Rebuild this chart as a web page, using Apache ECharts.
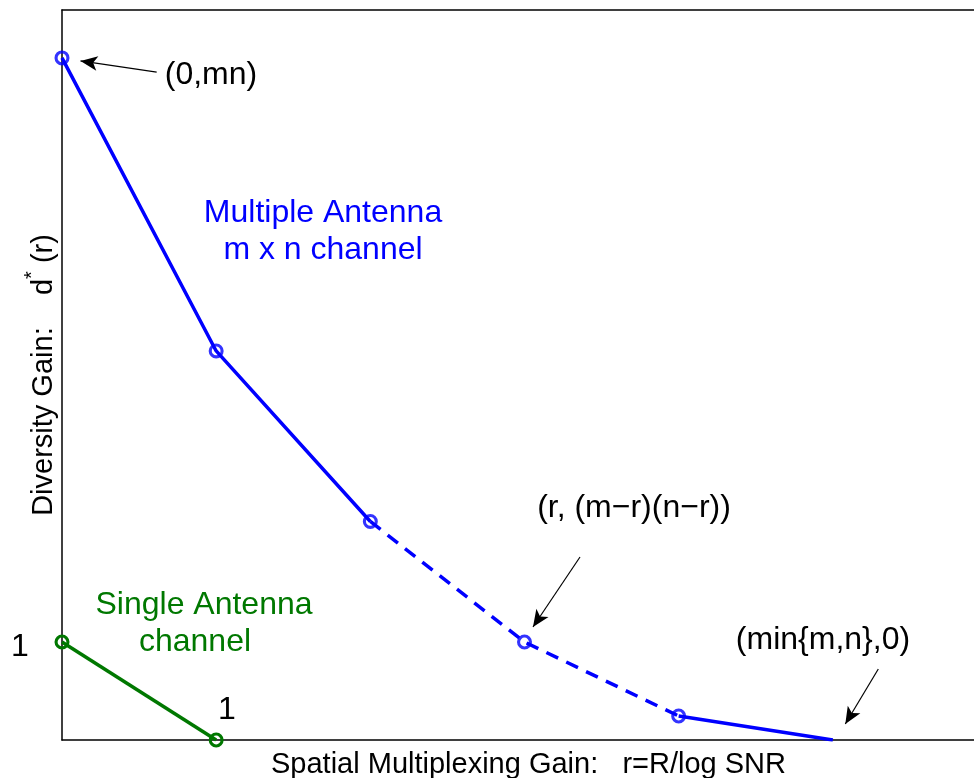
<!DOCTYPE html>
<html>
<head>
<meta charset="utf-8">
<script src="https://cdn.jsdelivr.net/npm/echarts@6/dist/echarts.min.js"></script>
<style>html,body{margin:0;padding:0;background:#fff;}#c{width:974px;height:778px;}</style>
</head>
<body>
<div id="c"></div>
<script>
// Multiplexing gain r (x) for each corner point
const rValues = [0, 1, 2, 3, 4, 5];
// Diversity gain d*(r) for the multiple antenna m x n channel (schematic)
const multiDiversity = [6.96, 3.97, 2.23, 1.0, 0.245, 0];
// Single antenna channel
const singleR = [0, 1];
const singleDiversity = [1, 0];
// Annotation arrows in data units: [fromX, fromY, toX, toY]
const arrowMn = [0.614, 6.816, 0.120, 6.929];
const arrowGeneric = [3.360, 1.867, 3.055, 1.153];
const arrowMin = [5.295, 0.724, 5.081, 0.163];

const FONT = 'Liberation Sans, Arial, Helvetica, sans-serif';
const FS = 32;
const AFS = 29;
const BLUE = '#0000ff';
const GREEN = '#007800';
// hollow ring marker (outer and inner circles drawn in opposite directions)
const RING = 'path://M7,0 A7,7 0 1,1 -7,0 A7,7 0 1,1 7,0 Z M4.1,0 A4.1,4.1 0 1,0 -4.1,0 A4.1,4.1 0 1,0 4.1,0 Z';

const pts = (xs, ys, from, to) => xs.slice(from, to + 1).map((x, i) => [x, ys[from + i]]);

function arrowLine(a) {
  return [{ coord: [a[0], a[1]] }, { coord: [a[2], a[3]] }];
}

const chart = echarts.init(document.getElementById('c'), null, { renderer: 'canvas' });

const markerStyle = (c) => ({ color: c, borderWidth: 0 });
const hiddenAxisBits = { axisTick: { show: false }, axisLabel: { show: false }, splitLine: { show: false } };
const frameLine = { show: true, lineStyle: { color: '#000', width: 1.5 } };

chart.setOption({
  animation: false,
  backgroundColor: '#fff',
  grid: { left: 62, top: 10, width: 925, height: 730, show: false, outerBoundsMode: 'none', containLabel: false },
  xAxis: [
    {
      type: 'value', min: 0, max: 6, position: 'bottom',
      axisLine: Object.assign({ onZero: false }, frameLine), ...hiddenAxisBits,
      name: 'Spatial Multiplexing Gain:   r=R/log SNR',
      nameLocation: 'middle', nameGap: 10,
      nameTextStyle: { fontFamily: FONT, fontSize: AFS, color: '#000', verticalAlign: 'top', padding: [0, 0, 0, 8] }
    },
    {
      type: 'value', min: 0, max: 6, position: 'top',
      axisLine: Object.assign({ onZero: false }, frameLine), ...hiddenAxisBits
    }
  ],
  yAxis: {
    type: 'value', min: 0, max: 7.449,
    axisLine: Object.assign({ onZero: false }, frameLine), ...hiddenAxisBits,
    name: '{a|Diversity Gain:    d}{s|*}{a| (r)}',
    nameLocation: 'middle', nameGap: 4,
    nameTextStyle: {
      fontFamily: FONT, fontSize: AFS, color: '#000',
      rich: {
        a: { fontFamily: FONT, fontSize: AFS, color: '#000', verticalAlign: 'bottom' },
        s: { fontFamily: FONT, fontSize: 20, color: '#000', verticalAlign: 'top', padding: [0, 0, 16, 0] }
      }
    }
  },
  series: [
    {
      type: 'line', data: pts(rValues, multiDiversity, 0, 2),
      lineStyle: { color: BLUE, width: 3.5 }, symbol: 'none', z: 2
    },
    {
      type: 'line', data: pts(rValues, multiDiversity, 2, 4),
      lineStyle: { color: BLUE, width: 3.5, type: [13, 9] }, symbol: 'none', z: 2
    },
    {
      type: 'line', data: pts(rValues, multiDiversity, 4, 5),
      lineStyle: { color: BLUE, width: 3.5 }, symbol: 'none', z: 2
    },
    {
      type: 'scatter', data: pts(rValues, multiDiversity, 0, 4),
      symbol: RING, symbolSize: 15, itemStyle: markerStyle(BLUE), z: 3
    },
    {
      type: 'line', data: singleR.map((x, i) => [x, singleDiversity[i]]),
      lineStyle: { color: GREEN, width: 3.5 }, symbol: RING, symbolSize: 15, showSymbol: true,
      itemStyle: markerStyle(GREEN), z: 3,
      markLine: {
        silent: true, symbol: ['none', 'arrow'], symbolSize: [11, 17],
        label: { show: false },
        lineStyle: { color: '#000', width: 1.2, type: 'solid' },
        data: [arrowLine(arrowMn), arrowLine(arrowGeneric), arrowLine(arrowMin)]
      }
    }
  ],
  graphic: [
    { type: 'text', x: 211, y: 75, style: { text: '(0,mn)', font: `${FS}px ${FONT}`, fill: '#000', align: 'center', verticalAlign: 'middle' } },
    { type: 'text', x: 323, y: 213, style: { text: 'Multiple Antenna', font: `${FS}px ${FONT}`, fill: BLUE, align: 'center', verticalAlign: 'middle' } },
    { type: 'text', x: 323, y: 250, style: { text: 'm x n channel', font: `${FS}px ${FONT}`, fill: BLUE, align: 'center', verticalAlign: 'middle' } },
    { type: 'text', x: 204, y: 605, style: { text: 'Single Antenna', font: `${FS}px ${FONT}`, fill: GREEN, align: 'center', verticalAlign: 'middle' } },
    { type: 'text', x: 195, y: 642, style: { text: 'channel', font: `${FS}px ${FONT}`, fill: GREEN, align: 'center', verticalAlign: 'middle' } },
    { type: 'text', x: 20, y: 647, style: { text: '1', font: `${FS}px ${FONT}`, fill: '#000', align: 'center', verticalAlign: 'middle' } },
    { type: 'text', x: 227, y: 710, style: { text: '1', font: `${FS}px ${FONT}`, fill: '#000', align: 'center', verticalAlign: 'middle' } },
    { type: 'text', x: 634, y: 508, style: { text: '(r, (m\u2212r)(n\u2212r))', font: `${FS}px ${FONT}`, fill: '#000', align: 'center', verticalAlign: 'middle' } },
    { type: 'text', x: 823, y: 640, style: { text: '(min{m,n},0)', font: `${FS}px ${FONT}`, fill: '#000', align: 'center', verticalAlign: 'middle' } }
  ]
});
</script>
</body>
</html>
